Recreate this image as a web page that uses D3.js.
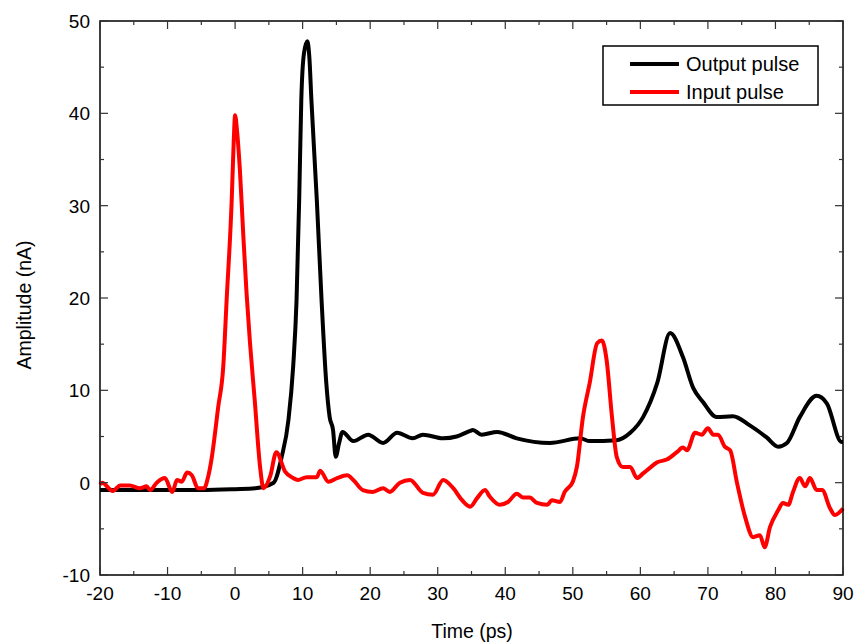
<!DOCTYPE html>
<html>
<head>
<meta charset="utf-8">
<script src="https://cdn.jsdelivr.net/npm/d3@7"></script>
<style>
  body { margin: 0; background: #fff; }
  text { font-family: "Liberation Sans", Arial, sans-serif; fill: #000; }
</style>
</head>
<body>
<svg id="chart" width="856" height="643"></svg>
<script>
// time axis (ps) and amplitude (nA)
var outputTime = [-20, -15, -10, -5, 0, 3, 5.7, 6.9, 7.9, 8.6, 9.1, 9.5, 9.8, 10.2, 10.7, 11.0, 11.3, 12.1, 12.8, 13.5, 14.0, 14.5, 14.9, 15.4, 15.9, 17.5, 19.7, 21.9, 24.0, 26.3, 27.8, 30.8, 32.8, 34.8, 35.2, 36.5, 38.8, 41.7, 46.6, 51.1, 52.5, 56.5, 58.5, 60.4, 62.5, 64.4, 66.3, 67.8, 69.3, 71.3, 73.7, 76.2, 78.7, 80.4, 81.7, 83.6, 86.1, 87.6, 89.8, 90];
var outputAmp = [-0.8, -0.8, -0.8, -0.8, -0.7, -0.6, 0, 2.8, 6.8, 12.6, 19.8, 31, 41.4, 46.5, 47.8, 46, 41.4, 30.6, 19.8, 10.8, 7.1, 5.7, 2.8, 4.3, 5.5, 4.5, 5.2, 4.3, 5.4, 4.8, 5.2, 4.8, 5.0, 5.6, 5.7, 5.2, 5.5, 4.8, 4.3, 4.8, 4.5, 4.6, 5.4, 7.1, 10.8, 16.2, 13.6, 10.3, 8.7, 7.1, 7.2, 6.2, 4.9, 3.9, 4.3, 7.1, 9.4, 8.6, 4.4, 4.4];

var inputTime = [-20, -19.7, -18.1, -17, -15.6, -14.1, -13.1, -12.6, -11.6, -10.4, -9.3, -8.6, -7.9, -7.1, -6.4, -5.5, -4.6, -4.0, -3.5, -2.5, -1.75, -1.25, -0.5, -0.2, 0, 0.3, 0.7, 1.2, 1.7, 2.2, 2.9, 3.7, 4.2, 5.2, 6.1, 7.4, 8.6, 9.3, 10.6, 12.1, 12.6, 13.8, 15.1, 16.6, 17.5, 18.9, 20.4, 21.9, 22.9, 24.4, 25.9, 27.8, 29.3, 30.8, 32.3, 33.6, 34.8, 35.8, 37.0, 37.7, 39.2, 40.4, 41.7, 42.6, 43.6, 44.7, 46.2, 46.9, 48.1, 48.8, 50.0, 50.6, 51.5, 52.5, 53.6, 54.3, 55.0, 55.8, 56.5, 57.4, 58.5, 59.5, 60.4, 61.4, 62.5, 63.9, 65.4, 66.3, 66.9, 68.1, 69.1, 70.0, 70.8, 71.5, 72.5, 73.3, 74.3, 75.5, 76.7, 77.7, 78.4, 79.2, 80.4, 81.1, 81.9, 82.6, 83.6, 84.4, 85.1, 86.1, 86.9, 88.1, 88.8, 90];
var inputAmp = [-0.2, 0, -0.9, -0.3, -0.3, -0.6, -0.4, -0.8, 0, 0.5, -1.0, 0.3, 0.1, 1.1, 0.8, -0.6, -0.6, 0.6, 2.5, 8.2, 12.6, 19.8, 30.6, 37, 39.8, 38, 34, 27, 20.5, 15.2, 9, 1.7, -0.6, 0.7, 3.3, 1.2, 0.5, 0.3, 0.6, 0.6, 1.3, 0.1, 0.5, 0.8, 0.3, -0.8, -1.0, -0.6, -1.0, 0, 0.3, -1.1, -1.3, 0.3, -0.6, -1.9, -2.6, -1.7, -0.8, -1.5, -2.4, -2.1, -1.2, -1.6, -1.6, -2.2, -2.4, -1.9, -2.1, -1.0, 0.1, 1.7, 7.1, 10.8, 15.1, 15.4, 13.3, 7.1, 2.8, 1.7, 1.7, 0.5, 1.0, 1.6, 2.2, 2.5, 3.3, 3.8, 3.5, 5.4, 5.2, 5.9, 5.2, 5.2, 3.9, 3.5, 0, -3.7, -5.9, -5.7, -7.0, -4.8, -3.0, -2.2, -2.4, -1.0, 0.5, -0.4, 0.5, -0.8, -0.8, -2.8, -3.5, -2.8];

var xTicks = [-20, -10, 0, 10, 20, 30, 40, 50, 60, 70, 80, 90];
var yTicks = [-10, 0, 10, 20, 30, 40, 50];
var seriesNames = ["Output pulse", "Input pulse"];
var seriesColors = ["#000000", "#ff0000"];

var svg = d3.select("#chart");
var plotL = 100, plotT = 21, plotR = 843, plotB = 575;

var x = d3.scaleLinear().domain([-20, 90]).range([plotL, plotR]);
var y = d3.scaleLinear().domain([-10, 50]).range([plotB, plotT]);

// minor ticks every 5
var xMinor = d3.range(-15, 90, 10);
var yMinor = d3.range(-5, 50, 10);

var g = svg.append("g");

// curves: black first, red drawn over it
var line = d3.line().curve(d3.curveMonotoneX);
var series = [
    { t: outputTime, a: outputAmp },
    { t: inputTime, a: inputAmp }
];
series.forEach(function(s, i) {
    var pts = s.t.map(function(t, k) { return [x(t), y(s.a[k])]; });
    g.append("path")
        .attr("d", line(pts))
        .attr("fill", "none")
        .attr("stroke", seriesColors[i])
        .attr("stroke-width", 4)
        .attr("stroke-linejoin", "round");
});

// frame
g.append("rect")
    .attr("x", plotL).attr("y", plotT)
    .attr("width", plotR - plotL).attr("height", plotB - plotT)
    .attr("fill", "none").attr("stroke", "#000").attr("stroke-width", 1.5);

// inward ticks on all sides
var tickG = g.append("g").attr("stroke", "#333").attr("stroke-width", 1.2);
xTicks.forEach(function(v) {
    tickG.append("line").attr("x1", x(v)).attr("x2", x(v)).attr("y1", plotB).attr("y2", plotB - 8);
    tickG.append("line").attr("x1", x(v)).attr("x2", x(v)).attr("y1", plotT).attr("y2", plotT + 8);
});
xMinor.forEach(function(v) {
    tickG.append("line").attr("x1", x(v)).attr("x2", x(v)).attr("y1", plotB).attr("y2", plotB - 4);
    tickG.append("line").attr("x1", x(v)).attr("x2", x(v)).attr("y1", plotT).attr("y2", plotT + 4);
});
yTicks.forEach(function(v) {
    tickG.append("line").attr("x1", plotL).attr("x2", plotL + 8).attr("y1", y(v)).attr("y2", y(v));
    tickG.append("line").attr("x1", plotR).attr("x2", plotR - 8).attr("y1", y(v)).attr("y2", y(v));
});
yMinor.forEach(function(v) {
    tickG.append("line").attr("x1", plotL).attr("x2", plotL + 4).attr("y1", y(v)).attr("y2", y(v));
    tickG.append("line").attr("x1", plotR).attr("x2", plotR - 4).attr("y1", y(v)).attr("y2", y(v));
});

// tick labels
g.selectAll(".xl").data(xTicks).enter().append("text")
    .attr("x", function(d) { return x(d); })
    .attr("y", 600)
    .attr("text-anchor", "middle")
    .style("font-size", "19px")
    .text(function(d) { return d; });
g.selectAll(".yl").data(yTicks).enter().append("text")
    .attr("x", plotL - 10)
    .attr("y", function(d) { return y(d) + 7; })
    .attr("text-anchor", "end")
    .style("font-size", "19px")
    .text(function(d) { return d; });

// axis titles
g.append("text")
    .attr("x", 472)
    .attr("y", 638)
    .attr("text-anchor", "middle")
    .style("font-size", "19.5px")
    .text("Time (ps)");
g.append("text")
    .attr("transform", "translate(31,305) rotate(-90)")
    .attr("text-anchor", "middle")
    .style("font-size", "19.5px")
    .text("Amplitude (nA)");

// legend
var lg = g.append("g");
lg.append("rect")
    .attr("x", 603).attr("y", 46).attr("width", 215).attr("height", 59)
    .attr("fill", "#fff").attr("stroke", "#000").attr("stroke-width", 1.5);
seriesNames.forEach(function(name, i) {
    var yy = 64 + i * 28;
    lg.append("line").attr("x1", 630).attr("x2", 679).attr("y1", yy).attr("y2", yy)
        .attr("stroke", seriesColors[i]).attr("stroke-width", 4);
    lg.append("text").attr("x", 686).attr("y", yy + 7)
        .style("font-size", "20px").text(name);
});
</script>
</body>
</html>
